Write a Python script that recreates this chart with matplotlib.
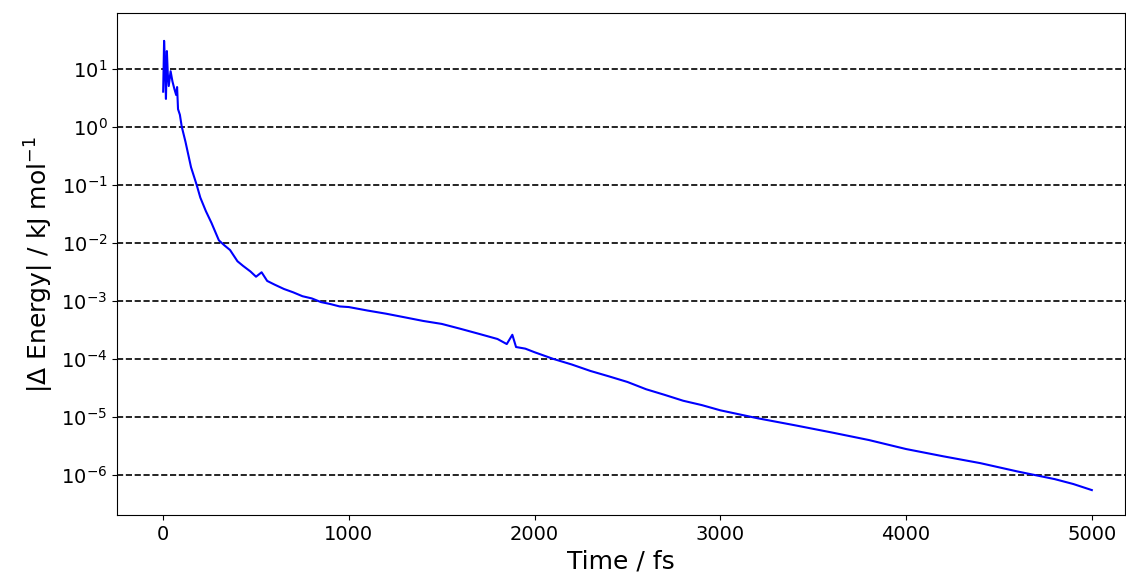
import matplotlib
matplotlib.use("Agg")
import matplotlib.pyplot as plt

time_fs = [0, 5, 10, 15, 20, 25, 30, 40, 50, 60, 70, 75, 80, 90, 100, 120, 150, 180, 200, 230, 260, 300, 330, 360, 400, 430, 470, 500, 530, 560, 600, 650, 700, 750, 800, 850, 900, 950, 1000,
           1100, 1200, 1300, 1400, 1500, 1600, 1700, 1800, 1850, 1880, 1900, 1950, 2000, 2100, 2200, 2300, 2400, 2500, 2600, 2700, 2800, 2900, 3000,
           3200, 3400, 3600, 3800, 4000, 4200, 4400, 4600, 4800, 4900, 5000]
energy = [4.0, 30.0, 12.0, 3.0, 20.0, 8.0, 5.0, 9.0, 6.0, 4.5, 3.5, 4.8, 2.0, 1.6, 1.0, 0.55, 0.2, 0.1, 0.06, 0.035, 0.022, 0.011, 0.009, 0.0075, 0.0048, 0.004, 0.0032, 0.0026, 0.0031, 0.0022, 0.0019, 0.0016, 0.0014, 0.0012, 0.0011, 0.00095, 0.00088, 0.0008, 0.00078,
          0.00068, 0.0006, 0.00052, 0.00045, 0.0004, 0.00033, 0.00027, 0.00022, 0.00018, 0.00026, 0.00016, 0.00015, 0.00013, 0.0001, 8e-5, 6.2e-5, 5e-5, 4e-5, 3e-5, 2.4e-5, 1.9e-5, 1.6e-5, 1.3e-5,
          9.5e-6, 7.2e-6, 5.4e-6, 4.0e-6, 2.8e-6, 2.1e-6, 1.6e-6, 1.15e-6, 8.5e-7, 7e-7, 5.5e-7]

fig = plt.figure(figsize=(11.26, 5.82), dpi=100)
ax = fig.add_axes([0.104, 0.115, 0.895, 0.862])
ax.plot(time_fs, energy, color='blue', lw=1.5)
ax.set_yscale('log')
ax.set_xlim(-248, 5178)
ax.set_ylim(10**-6.69, 10**1.95)
ax.set_yticks([10.0**k for k in range(-6, 2)])
ax.minorticks_off()
ax.yaxis.grid(True, linestyle='--', color='black', lw=1.2)
ax.tick_params(labelsize=14)
ax.set_xlabel('Time / fs', fontsize=18)
ax.set_ylabel(r'|$\Delta$ Energy| / kJ mol$^{-1}$', fontsize=18)
fig.savefig('out.png', dpi=100)
